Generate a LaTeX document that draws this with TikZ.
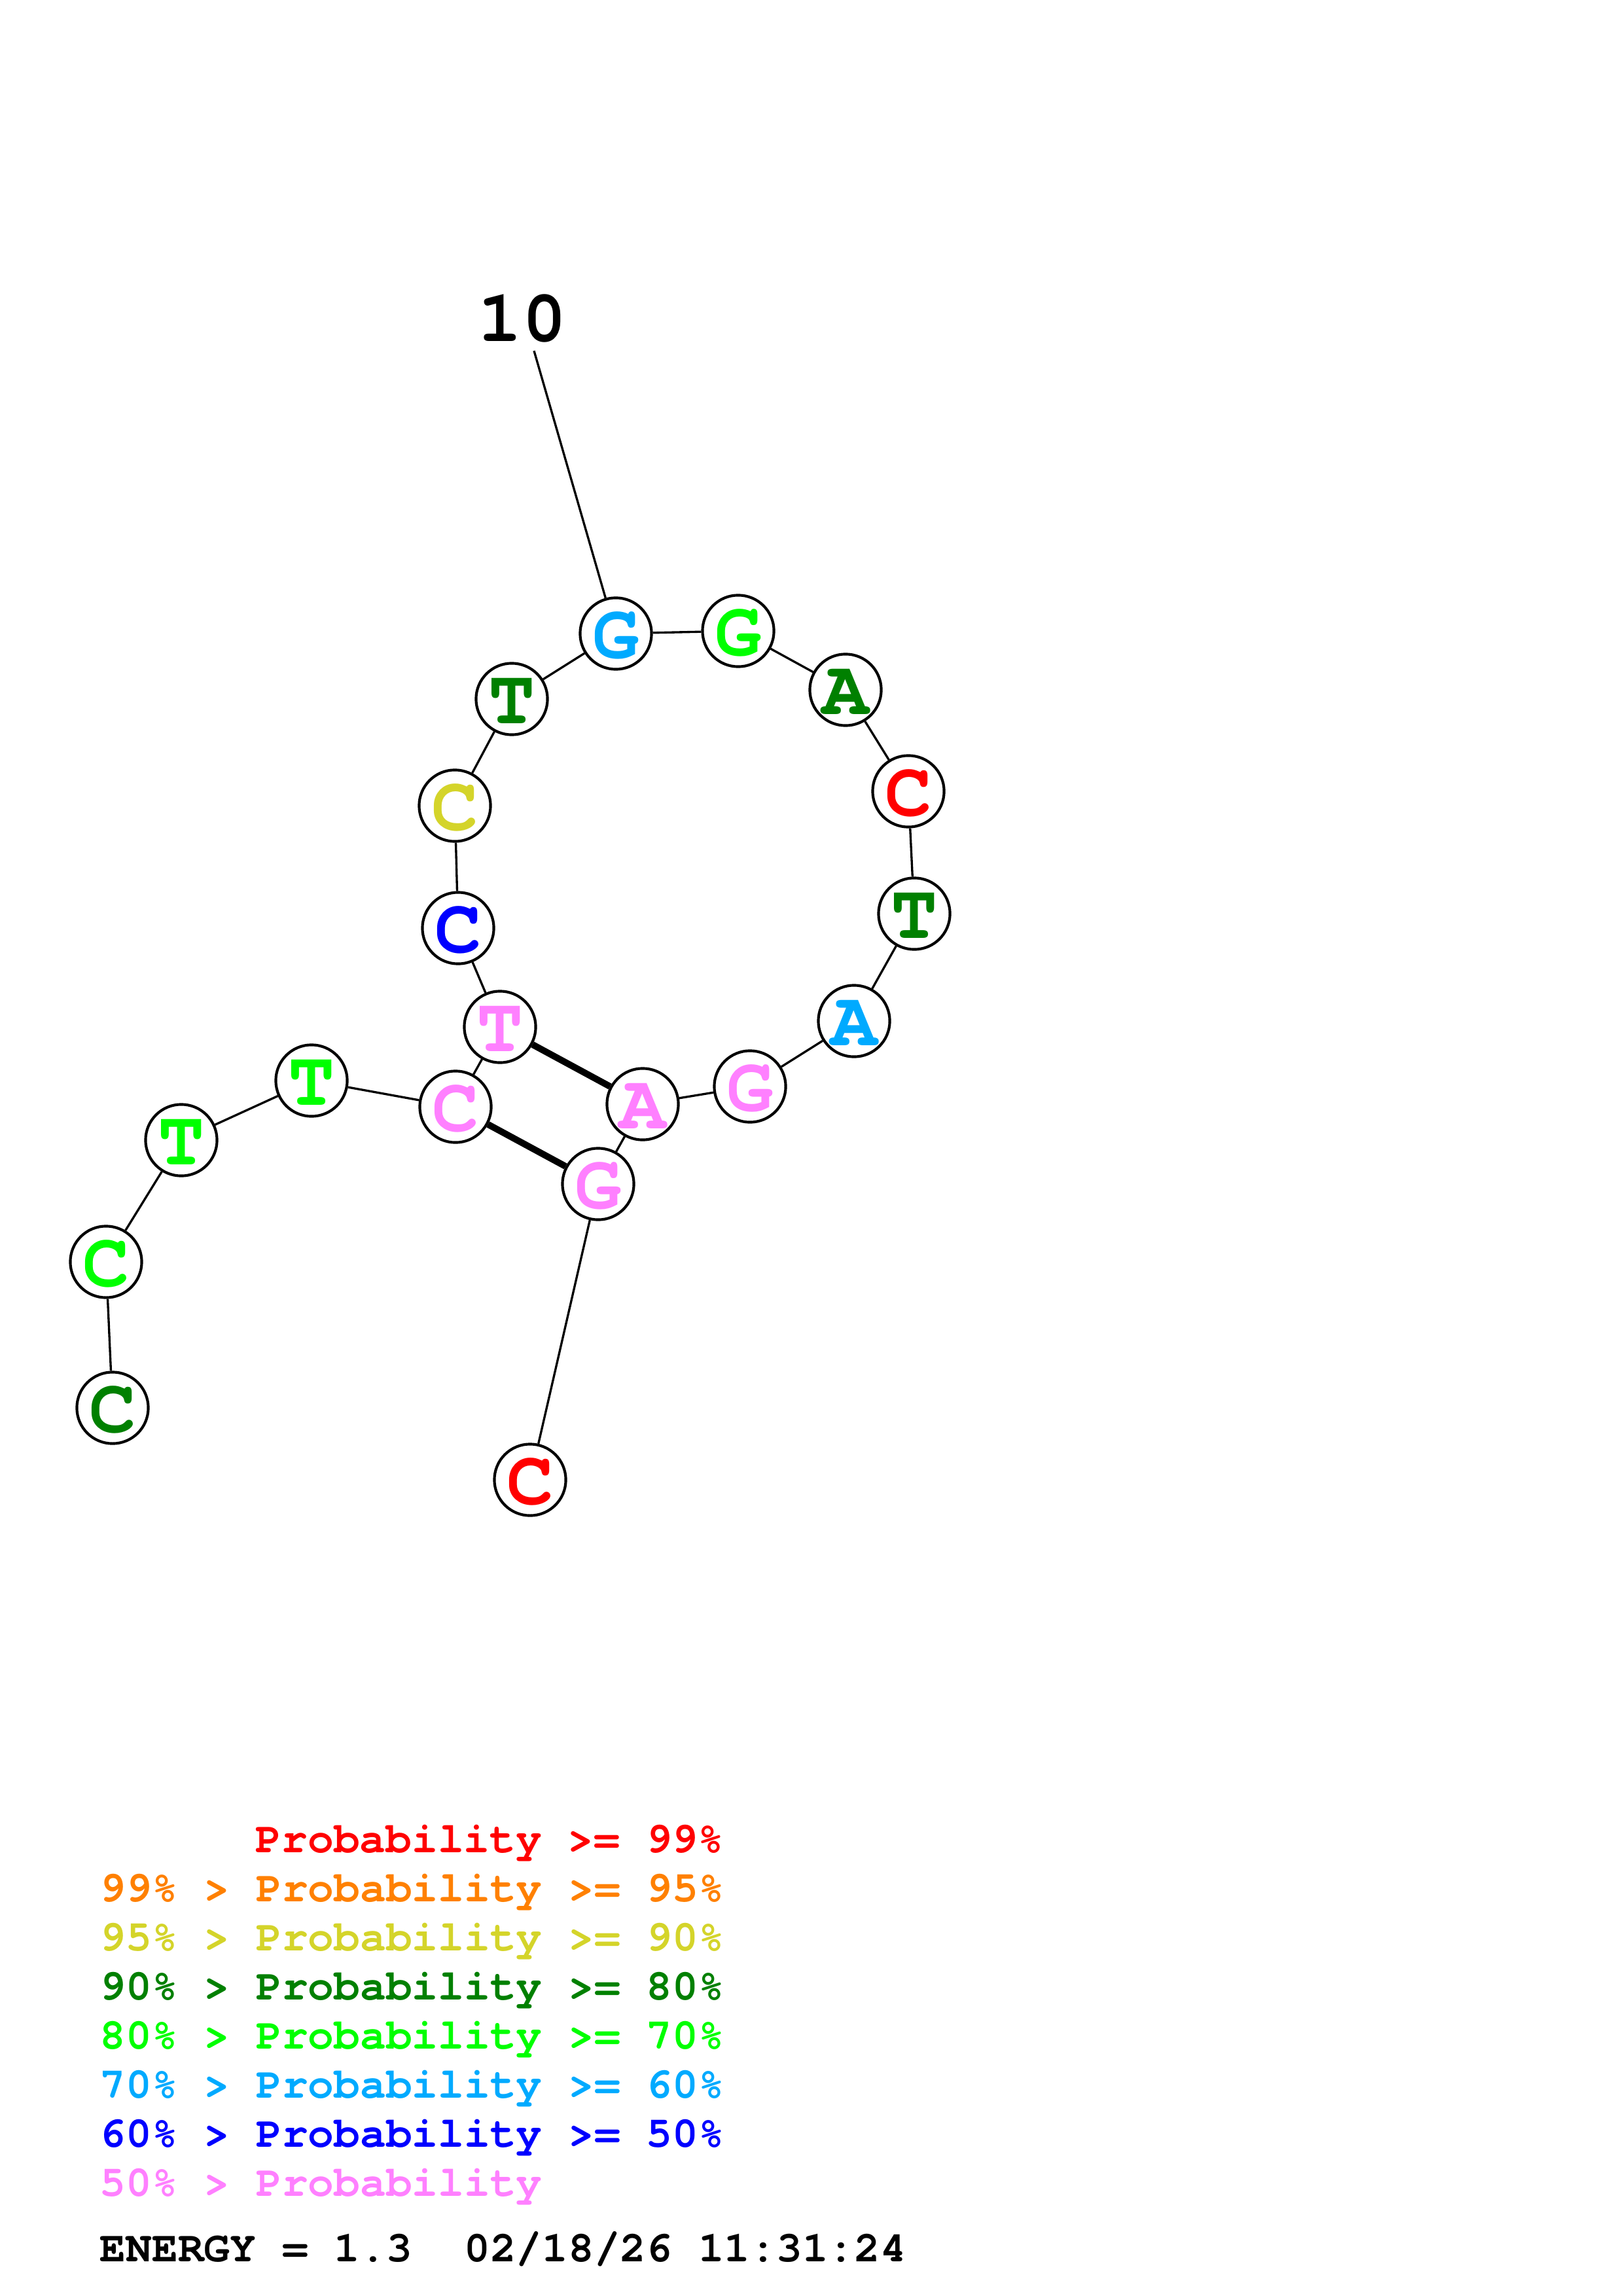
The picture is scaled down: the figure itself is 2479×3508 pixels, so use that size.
\documentclass[tikz,border=0pt]{standalone}
\usepackage{fontspec}
\setmainfont{TeX Gyre Cursor}
\definecolor{cR}{RGB}{255,0,0}
\definecolor{cO}{RGB}{255,128,0}
\definecolor{cY}{RGB}{212,212,42}
\definecolor{cDG}{RGB}{0,128,0}
\definecolor{cG}{RGB}{0,255,0}
\definecolor{cC}{RGB}{0,170,255}
\definecolor{cB}{RGB}{0,0,255}
\definecolor{cP}{RGB}{255,128,255}
\begin{document}
\begin{tikzpicture}[x=0.24pt,y=-0.24pt,
  base/.style={circle,draw,line width=1pt,fill=white,minimum size=26.2pt,inner sep=0pt,
    text height=18.2pt,text depth=0pt,
    font=\fontsize{28.5}{28.5}\selectfont\bfseries},
  bond/.style={line width=0.8pt},
  pairbond/.style={line width=2.4pt},
  leg/.style={anchor=base west,inner sep=0pt,font=\fontsize{15.9}{16}\selectfont\bfseries}]
\useasboundingbox (0,0) rectangle (2479,3508);
% label
\node[inner sep=0pt,font=\fontsize{27}{27}\selectfont\bfseries] (ten) at (798,486) {10};
\coordinate (tenend) at (816,536);
% bases
\node[base,text=cDG] (n1) at (172,2151) {C};
\node[base,text=cG] (n2) at (162,1928) {C};
\node[base,text=cG] (n3) at (277,1742) {T};
\node[base,text=cG] (n4) at (476,1651) {T};
\node[base,text=cP] (n5) at (696,1691) {C};
\node[base,text=cP] (n6) at (764,1569) {T};
\node[base,text=cB] (n7) at (700,1418) {C};
\node[base,text=cY] (n8) at (695,1231) {C};
\node[base,text=cDG] (n9) at (782,1068) {T};
\node[base,text=cC] (n10) at (941,968) {G};
\node[base,text=cG] (n11) at (1128,964) {G};
\node[base,text=cDG] (n12) at (1292,1054) {A};
\node[base,text=cR] (n13) at (1388,1209) {C};
\node[base,text=cDG] (n14) at (1397,1396) {T};
\node[base,text=cC] (n15) at (1305,1560) {A};
\node[base,text=cP] (n16) at (1146,1660) {G};
\node[base,text=cP] (n17) at (982,1687) {A};
\node[base,text=cP] (n18) at (914,1809) {G};
\node[base,text=cR] (n19) at (810,2261) {C};
% backbone
\draw[bond] (tenend) -- (n10);
\foreach \a/\b in {1/2,2/3,3/4,4/5,5/6,6/7,7/8,8/9,9/10,10/11,11/12,12/13,13/14,14/15,15/16,16/17,17/18,18/19}
  \draw[bond] (n\a) -- (n\b);
% pairs
\draw[pairbond] (n6) -- (n17);
\draw[pairbond] (n5) -- (n18);
% legend
\node[leg,text=cR] (l1) at (390,2830) {Probability >= 99\%};
\node[leg,text=cO] (l2) at (152,2905) {99\% > Probability >= 95\%};
\node[leg,text=cY] (l3) at (152,2980) {95\% > Probability >= 90\%};
\node[leg,text=cDG] (l4) at (152,3055) {90\% > Probability >= 80\%};
\node[leg,text=cG] (l5) at (152,3130) {80\% > Probability >= 70\%};
\node[leg,text=cC] (l6) at (152,3205) {70\% > Probability >= 60\%};
\node[leg,text=cB] (l7) at (152,3280) {60\% > Probability >= 50\%};
\node[leg,text=cP] (l8) at (152,3355) {50\% > Probability};
\node[leg,text=black] (en) at (152,3455) {ENERGY = 1.3\ \ 02/18/26 11:31:24};
\end{tikzpicture}
\end{document}
